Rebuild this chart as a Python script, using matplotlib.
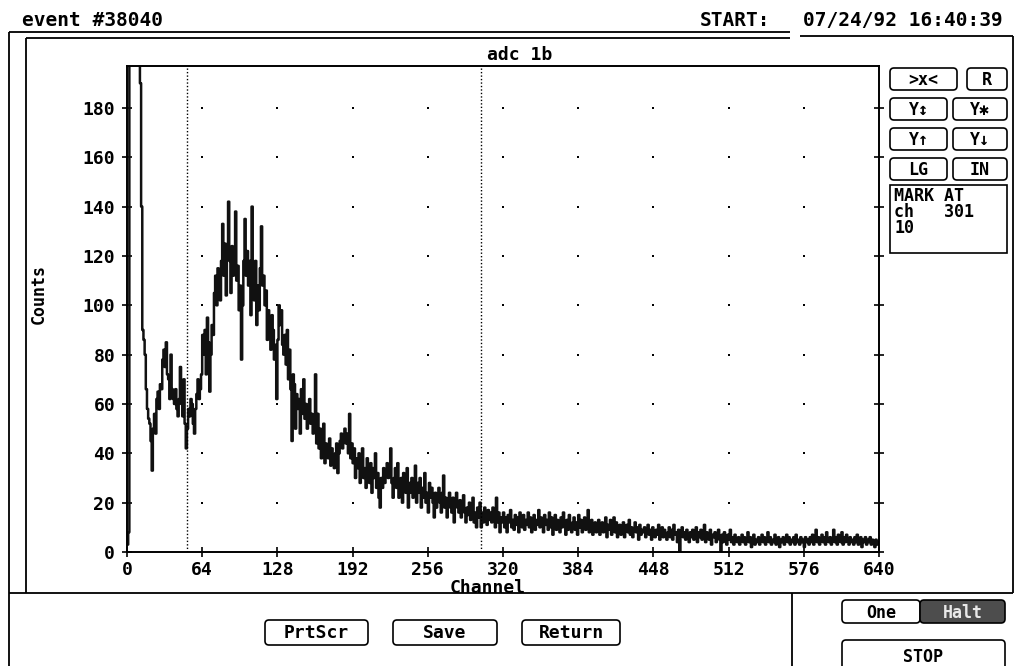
import numpy as np
import matplotlib
matplotlib.use('Agg')
import matplotlib.pyplot as plt
from matplotlib.patches import FancyBboxPatch, Rectangle

plt.rcParams['font.family'] = ['DejaVu Sans Mono', 'DejaVu Sans']
plt.rcParams['font.weight'] = 'bold'

# ---- run info ----
EVENT      = 38040
START      = '07/24/92 16:40:39'
HISTO      = 'adc 1b'
MARK_LO    = 51
MARK_CH    = 301

XTICKS = [0, 64, 128, 192, 256, 320, 384, 448, 512, 576, 640]
YTICKS = [0, 20, 40, 60, 80, 100, 120, 140, 160, 180]

# counts per channel, 640 channels (first bins overflow the display range)
counts = [
    3, 8, 250, 250, 250, 250, 250, 250, 250, 250, 250, 190, 140, 90, 86, 80, 66, 58, 54, 52,
    45, 33, 50, 56, 48, 62, 65, 58, 68, 66, 78, 82, 75, 85, 72, 70, 62, 80, 66, 62,
    60, 66, 58, 55, 62, 75, 60, 55, 70, 52, 42, 50, 58, 55, 62, 60, 52, 48, 58, 64,
    70, 62, 66, 72, 88, 80, 90, 72, 95, 85, 65, 80, 92, 88, 105, 112, 100, 115, 108, 102,
    118, 133, 112, 125, 104, 120, 142, 118, 105, 124, 112, 120, 138, 110, 116, 98, 108, 78, 100, 118,
    135, 112, 122, 108, 118, 96, 140, 112, 102, 118, 92, 108, 98, 115, 132, 108, 112, 100, 106, 86,
    98, 92, 82, 96, 90, 78, 84, 62, 86, 100, 92, 98, 84, 80, 88, 76, 90, 70, 82, 66,
    45, 72, 68, 50, 64, 58, 62, 48, 66, 56, 70, 54, 60, 50, 58, 62, 52, 56, 48, 54,
    72, 44, 56, 42, 50, 38, 46, 52, 36, 44, 40, 38, 46, 35, 42, 38, 34, 40, 44, 32,
    40, 45, 48, 42, 46, 50, 44, 48, 40, 56, 38, 44, 36, 42, 30, 38, 34, 40, 28, 36,
    42, 30, 34, 26, 38, 32, 28, 36, 24, 34, 30, 40, 26, 32, 22, 18, 30, 26, 34, 28,
    32, 36, 30, 34, 42, 28, 22, 30, 34, 26, 36, 22, 28, 30, 20, 32, 26, 24, 34, 18,
    28, 24, 30, 22, 26, 35, 20, 28, 24, 30, 18, 26, 22, 32, 20, 24, 16, 28, 22, 26,
    20, 14, 24, 18, 22, 26, 20, 16, 24, 31, 18, 22, 14, 20, 24, 18, 16, 22, 12, 20,
    24, 18, 16, 21, 14, 19, 23, 16, 12, 18, 15, 20, 13, 17, 22, 12, 16, 10, 18, 14,
    20, 10, 16, 12, 18, 14, 11, 17, 13, 16, 12, 18, 14, 10, 22, 12, 16, 8, 14, 12,
    16, 10, 14, 8, 15, 12, 17, 10, 13, 9, 15, 11, 14, 8, 16, 12, 10, 15, 9, 13,
    11, 16, 10, 14, 8, 12, 15, 9, 13, 11, 17, 10, 14, 12, 8, 15, 11, 13, 9, 16,
    10, 14, 7, 12, 15, 9, 13, 11, 8, 14, 10, 16, 12, 7, 13, 9, 15, 11, 8, 12,
    14, 9, 12, 7, 15, 10, 13, 8, 11, 14, 9, 12, 17, 8, 11, 13, 7, 10, 12, 8,
    11, 13, 7, 9, 12, 8, 10, 14, 6, 11, 9, 13, 7, 10, 14, 8, 12, 6, 9, 11,
    7, 10, 12, 6, 9, 11, 8, 13, 7, 10, 6, 9, 12, 8, 10, 5, 11, 7, 9, 8,
    10, 6, 8, 11, 7, 9, 5, 10, 8, 6, 9, 7, 11, 5, 8, 10, 6, 9, 7, 5,
    8, 10, 6, 9, 5, 11, 7, 8, 4, 9, 0, 7, 10, 6, 8, 5, 9, 7, 4, 8,
    6, 9, 5, 7, 10, 4, 8, 6, 9, 5, 7, 11, 4, 8, 6, 5, 9, 3, 7, 6,
    8, 4, 6, 9, 5, 0, 7, 4, 8, 6, 3, 7, 5, 9, 4, 6, 3, 7, 5, 4,
    6, 3, 5, 7, 4, 6, 3, 5, 8, 4, 6, 2, 5, 7, 3, 5, 4, 6, 3, 5,
    7, 4, 6, 3, 5, 8, 4, 6, 3, 5, 4, 7, 3, 5, 6, 2, 5, 4, 6, 3,
    5, 7, 4, 6, 3, 5, 4, 6, 3, 7, 4, 5, 3, 6, 4, 5, 2, 6, 4, 5,
    3, 6, 4, 7, 3, 5, 9, 4, 6, 3, 5, 7, 4, 6, 3, 8, 5, 4, 6, 3,
    5, 9, 4, 6, 3, 7, 5, 4, 8, 3, 6, 4, 7, 5, 3, 6, 4, 5, 3, 6,
    4, 7, 3, 5, 6, 2, 5, 4, 6, 3, 5, 4, 6, 3, 5, 4, 2, 5, 3, 4,
]
channels = np.arange(len(counts))

W, H = 1026, 666
fig = plt.figure(figsize=(W / 100, H / 100), dpi=100)

# screen chrome drawn in pixel units on a full-size overlay
ov = fig.add_axes([0, 0, 1, 1], zorder=0)
ov.set_xlim(0, W)
ov.set_ylim(H, 0)
ov.axis('off')

def hline(y, x0, x1, lw=1.3):
    ov.plot([x0, x1], [y, y], color='k', lw=lw, solid_capstyle='butt')

def vline(x, y0, y1, lw=1.3):
    ov.plot([x, x], [y0, y1], color='k', lw=lw, solid_capstyle='butt')

def button(x0, y0, x1, y1, label, size=12, fill='white', tcol='k', ha='center'):
    box = FancyBboxPatch((x0, y0), x1 - x0, y1 - y0,
                         boxstyle='round,pad=0,rounding_size=4',
                         fc=fill, ec='k', lw=1.2)
    ov.add_patch(box)
    ov.text((x0 + x1) / 2, (y0 + y1) / 2 + 1, label, ha=ha, va='center',
            fontsize=size, fontweight='bold', color=tcol)

# frames
hline(32, 9, 790)
hline(36, 800, 1013)
hline(38, 26, 790)
vline(9, 32, 666)
vline(26, 38, 593)
vline(1013, 36, 593)
hline(593, 9, 1013)
vline(792, 593, 666)

# header
ov.text(22, 20, 'event #%d' % EVENT, fontsize=14, fontweight='bold', va='center')
ov.text(700, 20, 'START:', fontsize=14, fontweight='bold', va='center')
ov.text(1003, 20, START, fontsize=14, fontweight='bold', va='center', ha='right')
ov.text(520, 55, HISTO, fontsize=13, fontweight='bold', ha='center', va='center')

# side buttons
button(890, 68, 957, 90, '>x<')
button(967, 68, 1007, 90, 'R')
button(890, 98, 947, 120, 'Y↕')
button(953, 98, 1007, 120, 'Y✱')
button(890, 128, 947, 150, 'Y↑')
button(953, 128, 1007, 150, 'Y↓')
button(890, 158, 947, 180, 'LG')
button(953, 158, 1007, 180, 'IN')
ov.add_patch(Rectangle((890, 185), 117, 68, fc='white', ec='k', lw=1.2))
ov.text(894, 187, 'MARK AT\nch   %d\n%d' % (MARK_CH, counts[MARK_CH]),
        fontsize=12, fontweight='bold', va='top', ha='left', linespacing=0.85)

# bottom buttons
button(265, 620, 368, 645, 'PrtScr', size=13)
button(393, 620, 497, 645, 'Save', size=13)
button(522, 620, 620, 645, 'Return', size=13)
button(842, 600, 920, 623, 'One', size=12)
button(920, 600, 1005, 623, 'Halt', size=12, fill='#4d4d4d', tcol='#e8e8e8')
button(842, 640, 1005, 672, 'STOP', size=12)

# spectrum axes
ax = fig.add_axes([127 / W, 1 - 552 / H, 752 / W, (552 - 66) / H], zorder=2)
ax.patch.set_alpha(0)
ax.step(channels, counts, where='post', color='#111111', lw=1.8)
ax.set_xlim(0, 640)
ax.set_ylim(0, 197)

for ch in (MARK_LO, MARK_CH):
    ax.axvline(ch, color='k', lw=1.0, ls=(0, (1, 1.5)))

gx, gy = np.meshgrid(XTICKS[1:-1], YTICKS[1:])
ax.scatter(gx.ravel(), gy.ravel(), s=2, color='k', marker='s', lw=0)

ax.set_xticks(XTICKS)
ax.set_yticks(YTICKS)
ax.tick_params(axis='x', direction='inout', length=7, width=1.2, pad=3, labelsize=13)
ax.tick_params(axis='y', direction='inout', length=7, width=1.2, pad=5, labelsize=13,
               right=True)
for s in ax.spines.values():
    s.set_linewidth(1.4)
for lab in ax.get_xticklabels() + ax.get_yticklabels():
    lab.set_fontweight('bold')

ax.set_xlabel('Channel', fontsize=13, fontweight='bold')
ax.xaxis.set_label_coords(0.48, -0.055)
ax.set_ylabel('Counts', fontsize=12, fontweight='bold')
ax.yaxis.set_label_coords(-0.105, 0.53)

fig.savefig('out.png', dpi=100)
